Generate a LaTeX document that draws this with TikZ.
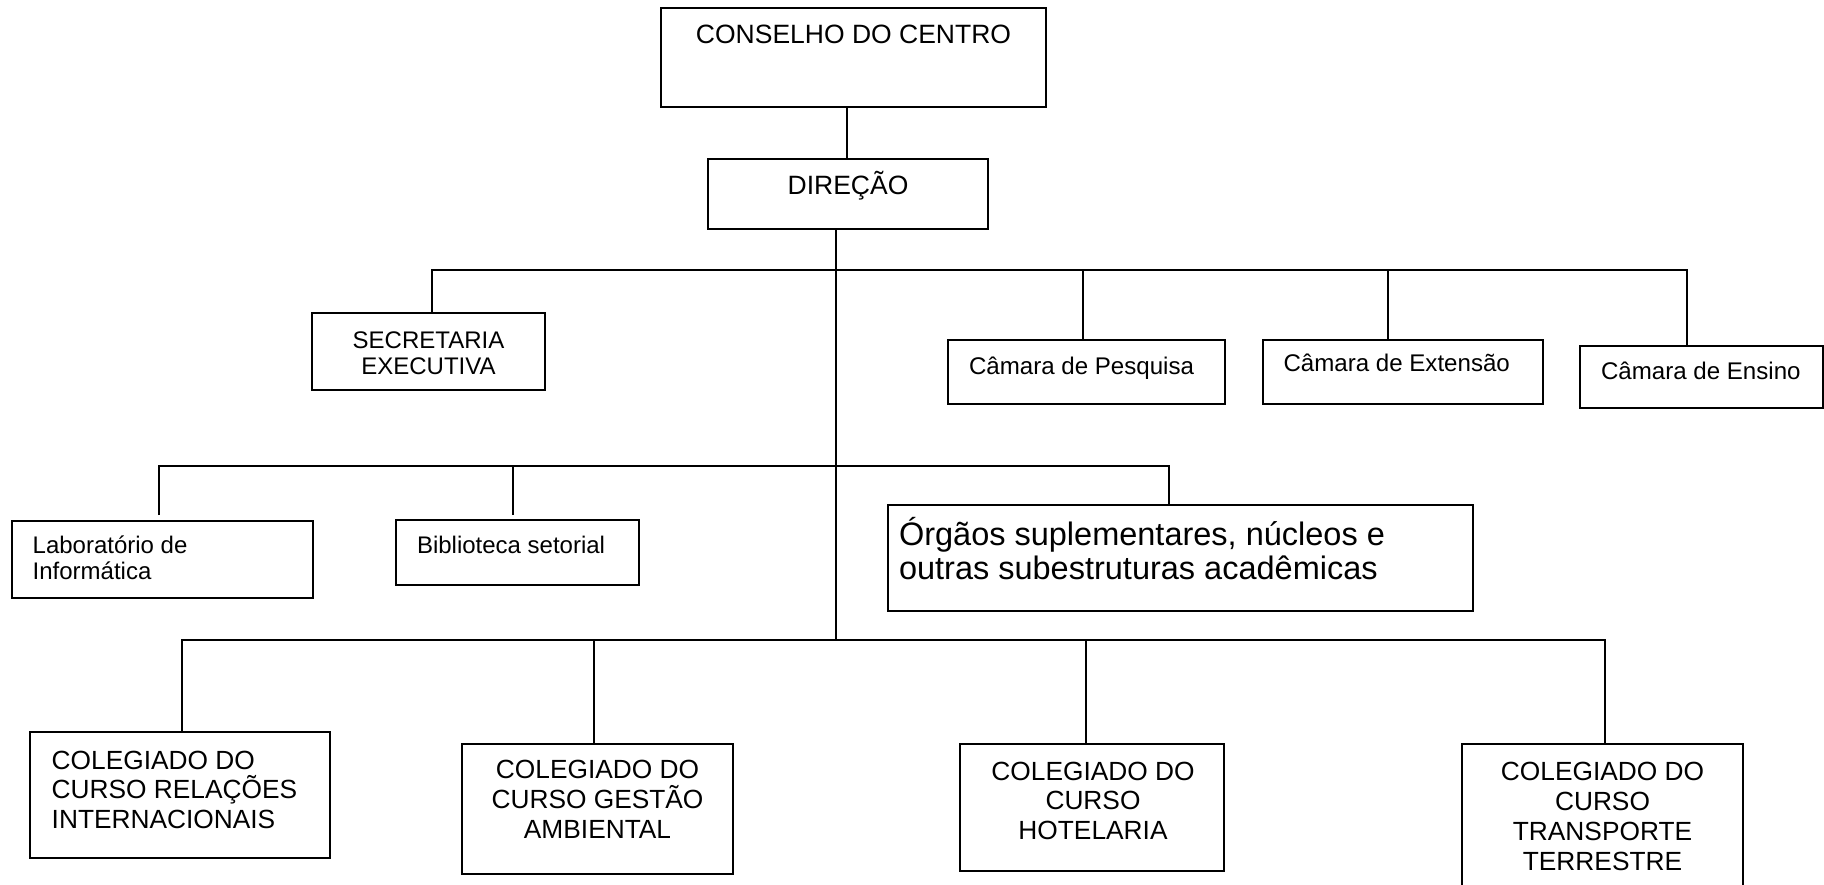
\documentclass[tikz,border=0pt]{standalone}
\usepackage{fontspec}
\setmainfont{Liberation Sans}
\begin{document}
\begin{tikzpicture}[x=1pt,y=-1pt,
  box/.style={draw, line width=2pt, rectangle, inner sep=0pt, outer sep=0pt, anchor=north west},
  conn/.style={line width=1.9pt},
  txt/.style={inner sep=0pt, outer sep=0pt},
  ftop/.style={font=\fontsize{26.5}{30}\selectfont},
  fsec/.style={font=\fontsize{24}{26}\selectfont},
  fcam/.style={font=\fontsize{24.1}{26}\selectfont},
  fcol/.style={font=\fontsize{26.3}{29.7}\selectfont},
  forg/.style={font=\fontsize{32.5}{34}\selectfont}]
\useasboundingbox (0,0) rectangle (1824,885);
\fill[white] (0,0) rectangle (1824,885);

% boxes
\node[box, minimum width=385pt, minimum height=99pt] (cons) at (661,8) {};
\node[box, minimum width=280pt, minimum height=70pt] (dir) at (708,159) {};
\node[box, minimum width=233pt, minimum height=77pt] (sec) at (312,313) {};
\node[box, minimum width=277pt, minimum height=64pt] (pesq) at (947.5,340) {};
\node[box, minimum width=280pt, minimum height=64pt] (ext) at (1262.5,340) {};
\node[box, minimum width=243pt, minimum height=62pt] (ens) at (1580,346) {};
\node[box, minimum width=301pt, minimum height=77pt] (lab) at (11.5,521) {};
\node[box, minimum width=242.5pt, minimum height=65pt] (bib) at (396,520) {};
\node[box, minimum width=585pt, minimum height=106.5pt] (org) at (888,504.5) {};
\node[box, minimum width=299.5pt, minimum height=126pt] (ri) at (30,731.7) {};
\node[box, minimum width=271.5pt, minimum height=129.5pt] (ga) at (461.7,744) {};
\node[box, minimum width=264pt, minimum height=127pt] (hot) at (960,744) {};
\node[box, minimum width=281.5pt, minimum height=160pt] (tr) at (1461.6,744) {};

% texts (multi-line nodes: base = baseline of the last line)
\node[txt, ftop, anchor=base] (cons-t) at (853.5,44) {CONSELHO DO CENTRO};
\node[txt, ftop, anchor=base] (dir-t) at (848,195) {DIREÇÃO};
\node[txt, fsec, anchor=base, align=center] (sec-t) at (428.5,374.3) {SECRETARIA\\EXECUTIVA};
\node[txt, fcam, anchor=base west] (pesq-t) at (969,374) {Câmara de Pesquisa};
\node[txt, fcam, anchor=base west] (ext-t) at (1283.5,372) {Câmara de Extensão};
\node[txt, fcam, anchor=base west] (ens-t) at (1601,380) {Câmara de Ensino};
\node[txt, fsec, anchor=base west, align=left] (lab-t) at (32.7,579.3) {Laboratório de\\Informática};
\node[txt, fsec, anchor=base west] (bib-t) at (417,553) {Biblioteca setorial};
\node[txt, forg, anchor=base west, align=left] (org-t) at (899,579) {Órgãos suplementares, núcleos e\\outras subestruturas acadêmicas};
\node[txt, fcol, anchor=base west, align=left] (ri-t) at (51.7,828.5) {COLEGIADO DO\\CURSO RELAÇÕES\\INTERNACIONAIS};
\node[txt, fcol, anchor=base, align=center] (ga-t) at (597.5,838.3) {COLEGIADO DO\\CURSO GESTÃO\\AMBIENTAL};
\node[txt, fcol, anchor=base, align=center] (hot-t) at (1093,839.5) {COLEGIADO DO\\CURSO\\HOTELARIA};
\node[txt, fcol, anchor=base, align=center] (tr-t) at (1602.5,870) {COLEGIADO DO\\CURSO\\TRANSPORTE\\TERRESTRE};

% junction coordinates
\coordinate (cd) at (846.7,0);
\coordinate (tk) at (835.7,640);
\coordinate (b1L) at (432.4,270);
\coordinate (b1R) at (1686.6,270);
\coordinate (xp) at (1083,270);
\coordinate (xe) at (1388,270);
\coordinate (b2L) at (159.2,466);
\coordinate (b2R) at (1168.6,466);
\coordinate (xb) at (512.8,466);
\coordinate (b3L) at (182,640);
\coordinate (b3R) at (1605.4,640);
\coordinate (xg) at (594.4,640);
\coordinate (xh) at (1085.6,640);

% connectors
\draw[conn] (cons.south -| cd) -- (dir.north -| cd);
\draw[conn] (dir.south -| tk) -- (tk);
\draw[conn] (sec.north -| b1L) -- (b1L) -- (b1R) -- (ens.north -| b1R);
\draw[conn] (xp) -- (pesq.north -| xp);
\draw[conn] (xe) -- (ext.north -| xe);
\draw[conn, shorten <=6pt] (lab.north -| b2L) -- (b2L) -- (b2R) -- (org.north -| b2R);
\draw[conn, shorten >=5pt] (xb) -- (bib.north -| xb);
\draw[conn] (ri.north -| b3L) -- (b3L) -- (b3R) -- (tr.north -| b3R);
\draw[conn] (xg) -- (ga.north -| xg);
\draw[conn] (xh) -- (hot.north -| xh);
\end{tikzpicture}
\end{document}
